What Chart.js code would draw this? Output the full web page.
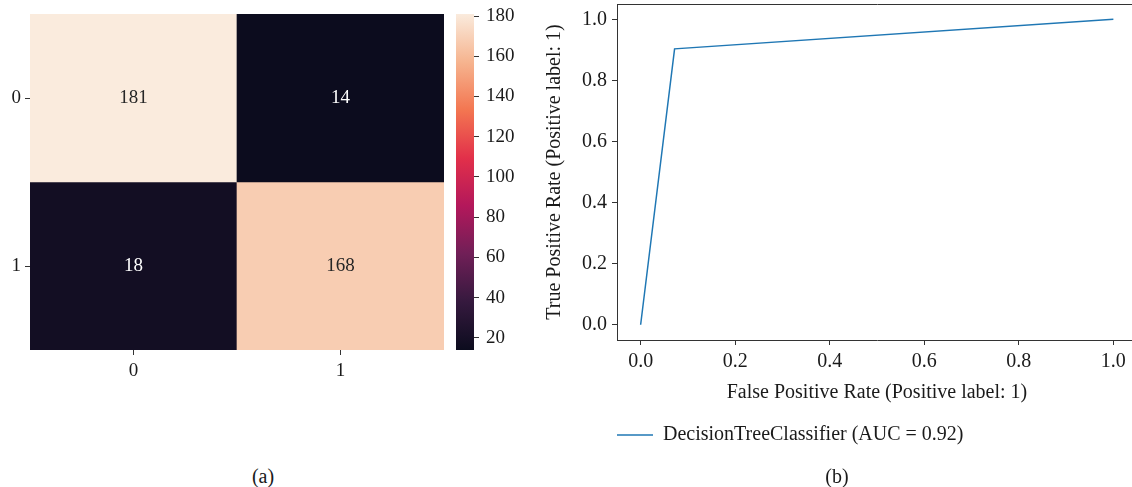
<!DOCTYPE html>
<html lang="en">
<head>
<meta charset="UTF-8">
<title>Confusion matrix and ROC curve</title>
<style>
  body {
    margin: 0;
    width: 1132px;
    height: 487px;
    overflow: hidden;
    background: #fff;
    position: relative;
    font-family: 'Liberation Serif', serif;
  }
  canvas { position: absolute; top: 0; }
  #heatmap { left: 0; }
  #colorbar { left: 450px; }
  #roc { left: 540px; }
  .caption {
    position: absolute;
    top: 464px;
    font-size: 20px;
    line-height: 24px;
    color: #1a1a1a;
    transform: translateX(-50%);
  }
</style>
</head>
<body>
<canvas id="heatmap" width="450" height="400"></canvas>
<canvas id="colorbar" width="80" height="400"></canvas>
<canvas id="roc" width="600" height="487"></canvas>
<div class="caption" style="left:263px">(a)</div>
<div class="caption" style="left:837px">(b)</div>

<script src="https://cdn.jsdelivr.net/npm/chart.js"></script>
<script>
  // confusion matrix (rows = true class, cols = predicted class)
  const classLabels = ['0', '1'];
  const confusion = [
    [181, 14],
    [18, 168]
  ];
  const colorbarTicks = [20, 40, 60, 80, 100, 120, 140, 160, 180];

  // ROC curve
  const fpr = [0, 0.0718, 1];
  const tpr = [0, 0.9032, 1];
  const rocTicks = [0, 0.2, 0.4, 0.6, 0.8, 1.0];
  const rocLabel = 'DecisionTreeClassifier (AUC = 0.92)';

  const textColor = '#1a1a1a';
  const axisColor = '#333333';

  Chart.defaults.font.family = "'Liberation Serif', serif";
  Chart.defaults.color = textColor;
  Chart.defaults.animation = false;
  Chart.defaults.plugins.tooltip.enabled = false;

  // seaborn "rocket" colormap, evenly spaced stops
  const rocketStops = ['#0c0c1e', '#35193e', '#701f57', '#b3185b', '#e2304a', '#f37651', '#f6b48f', '#faebdd'];

  const allValues = confusion.flat();
  const vMin = Math.min(...allValues);
  const vMax = Math.max(...allValues);
  const norm = v => (v - vMin) / (vMax - vMin);

  function hexToRgb(h) {
    return [parseInt(h.slice(1, 3), 16), parseInt(h.slice(3, 5), 16), parseInt(h.slice(5, 7), 16)];
  }
  function rocket(t) {
    t = Math.max(0, Math.min(1, t));
    const n = rocketStops.length - 1;
    const i = Math.min(n - 1, Math.floor(t * n));
    const f = t * n - i;
    const a = hexToRgb(rocketStops[i]), b = hexToRgb(rocketStops[i + 1]);
    const c = a.map((x, k) => Math.round(x + (b[k] - x) * f));
    return `rgb(${c[0]}, ${c[1]}, ${c[2]})`;
  }

  // numbers inside the heatmap cells
  const cellText = {
    id: 'cellText',
    afterDatasetsDraw(chart) {
      const ctx = chart.ctx;
      ctx.save();
      ctx.font = "19px 'Liberation Serif', serif";
      ctx.textAlign = 'center';
      ctx.textBaseline = 'middle';
      chart.data.datasets.forEach((ds, r) => {
        chart.getDatasetMeta(r).data.forEach((bar, c) => {
          const v = confusion[r][c];
          ctx.fillStyle = norm(v) < 0.5 ? '#ffffff' : '#262626';
          ctx.fillText(String(v), bar.x, (bar.y + bar.base) / 2);
        });
      });
      ctx.restore();
    }
  };

  // top and right spines for the ROC axes
  const frame = {
    id: 'frame',
    afterDraw(chart) {
      const {ctx, chartArea: a} = chart;
      ctx.save();
      ctx.strokeStyle = axisColor;
      ctx.lineWidth = 1;
      ctx.beginPath();
      ctx.moveTo(Math.round(a.left) + 0.5, Math.round(a.top) + 0.5);
      ctx.lineTo(Math.round(a.right) + 0.5, Math.round(a.top) + 0.5);
      ctx.lineTo(Math.round(a.right) + 0.5, Math.round(a.bottom) + 0.5);
      ctx.stroke();
      ctx.restore();
    }
  };

  const tickGrid = {display: true, drawOnChartArea: false, tickLength: 5, color: axisColor};

  // fixed axis sizes, no extra room for overhanging labels
  const fixWidth = w => s => { s.width = w; s.paddingTop = 0; s.paddingBottom = 0; };
  const fixHeight = h => s => { s.height = h; s.paddingLeft = 0; s.paddingRight = 0; };

  // (a) heatmap
  const heatmapChart = new Chart(document.getElementById('heatmap'), {
    type: 'bar',
    data: {
      labels: classLabels,
      datasets: confusion.map((row, r) => ({
        label: 'true ' + classLabels[r],
        data: row.map(() => [confusion.length - r - 1, confusion.length - r]),
        backgroundColor: row.map(v => rocket(norm(v))),
        borderWidth: 0,
        grouped: false,
        barPercentage: 1,
        categoryPercentage: 1
      }))
    },
    options: {
      responsive: false,
      layout: {padding: {left: 0, top: 14, right: 6, bottom: 0}},
      plugins: {legend: {display: false}},
      scales: {
        x: {
          type: 'category',
          grid: Object.assign({}, tickGrid, {offset: false}),
          border: {display: false},
          ticks: {font: {size: 19}, padding: 5, color: textColor},
          afterFit: fixHeight(50)
        },
        y: {
          type: 'linear',
          min: 0,
          max: confusion.length,
          afterBuildTicks: s => {
            s.ticks = classLabels.map((_, i) => ({value: classLabels.length - i - 0.5}));
          },
          ticks: {
            font: {size: 19},
            padding: 4,
            color: textColor,
            callback: v => classLabels[classLabels.length - 1 - Math.floor(v)]
          },
          grid: tickGrid,
          border: {display: false},
          afterFit: fixWidth(30)
        }
      }
    },
    plugins: [cellText]
  });

  // colorbar
  const colorbarChart = new Chart(document.getElementById('colorbar'), {
    type: 'bar',
    data: {
      labels: [''],
      datasets: [{
        data: [[vMin, vMax]],
        backgroundColor: ctx => {
          const area = ctx.chart.chartArea;
          if (!area) return rocketStops[0];
          const g = ctx.chart.ctx.createLinearGradient(0, area.bottom, 0, area.top);
          rocketStops.forEach((c, i) => g.addColorStop(i / (rocketStops.length - 1), c));
          return g;
        },
        borderWidth: 0,
        barPercentage: 1,
        categoryPercentage: 1
      }]
    },
    options: {
      responsive: false,
      layout: {padding: {left: 6, top: 14, right: 0, bottom: 50}},
      plugins: {legend: {display: false}},
      scales: {
        x: {display: false},
        y: {
          position: 'right',
          min: vMin,
          max: vMax,
          afterBuildTicks: s => { s.ticks = colorbarTicks.map(v => ({value: v})); },
          ticks: {font: {size: 19}, padding: 7, color: textColor},
          grid: tickGrid,
          border: {display: false},
          afterFit: fixWidth(56)
        }
      }
    }
  });

  // (b) ROC curve
  const rocChart = new Chart(document.getElementById('roc'), {
    type: 'scatter',
    data: {
      datasets: [{
        label: rocLabel,
        data: fpr.map((x, i) => ({x: x, y: tpr[i]})),
        showLine: true,
        borderColor: '#1f77b4',
        backgroundColor: '#1f77b4',
        borderWidth: 1.5,
        pointRadius: 0
      }]
    },
    options: {
      responsive: false,
      layout: {padding: {left: 0, top: 4, right: 3, bottom: 32}},
      plugins: {
        legend: {
          display: true,
          position: 'bottom',
          align: 'start',
          fullSize: false,
          labels: {
            usePointStyle: true,
            pointStyle: 'line',
            pointStyleWidth: 36,
            padding: 0,
            font: {size: 20},
            color: textColor
          }
        }
      },
      scales: {
        x: {
          type: 'linear',
          min: -0.05,
          max: 1.05,
          afterBuildTicks: s => { s.ticks = rocTicks.map(v => ({value: v})); },
          ticks: {font: {size: 20}, padding: 5, color: textColor, callback: v => v.toFixed(1)},
          title: {display: true, text: 'False Positive Rate (Positive label: 1)', font: {size: 20}, color: textColor, padding: {top: 0, bottom: 20}},
          grid: tickGrid,
          border: {display: true, color: axisColor, width: 1},
          afterFit: fixHeight(85)
        },
        y: {
          type: 'linear',
          min: -0.05,
          max: 1.05,
          afterBuildTicks: s => { s.ticks = rocTicks.map(v => ({value: v})); },
          ticks: {font: {size: 20}, padding: 5, color: textColor, callback: v => v.toFixed(1)},
          title: {display: true, text: 'True Positive Rate (Positive label: 1)', font: {size: 20}, color: textColor, padding: {top: 3, bottom: 0}},
          grid: tickGrid,
          border: {display: true, color: axisColor, width: 1},
          afterFit: fixWidth(77)
        }
      }
    },
    plugins: [frame]
  });
</script>
</body>
</html>
